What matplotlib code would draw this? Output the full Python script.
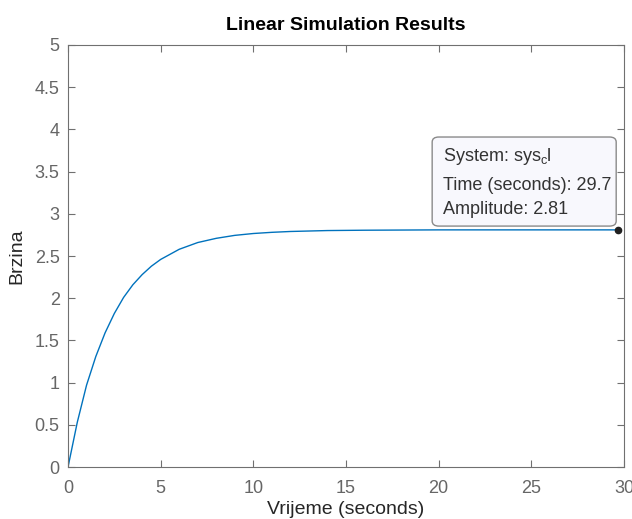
import matplotlib
matplotlib.use("Agg")
import matplotlib.pyplot as plt
from matplotlib.patches import FancyBboxPatch

# values
vrijeme = [0, 0.5, 1, 1.5, 2, 2.5, 3, 3.5, 4, 4.5, 5, 6, 7, 8, 9, 10, 11, 12,
           14, 16, 18, 20, 22, 25, 27, 29.7]
brzina = [0, 0.53, 0.97, 1.31, 1.59, 1.82, 2.01, 2.16, 2.28, 2.38, 2.46, 2.58,
          2.66, 2.71, 2.745, 2.767, 2.781, 2.791, 2.802, 2.806, 2.808, 2.81,
          2.81, 2.81, 2.81, 2.81]
tip_t, tip_y = 29.7, 2.81
x_ticks = [0, 5, 10, 15, 20, 25, 30]
y_ticks = [0, 0.5, 1, 1.5, 2, 2.5, 3, 3.5, 4, 4.5, 5]
y_labels = ['0', '0.5', '1', '1.5', '2', '2.5', '3', '3.5', '4', '4.5', '5']

plt.rcParams['font.family'] = ['Liberation Sans', 'DejaVu Sans']
axis_col = '#707070'

fig = plt.figure(figsize=(6.32, 5.19), dpi=100)
ax = fig.add_axes([0.1076, 0.100, 0.8797, 0.8133])

ax.plot(vrijeme, brzina, color='#0072BD', lw=1.0)
ax.plot([tip_t], [tip_y], 'o', color='#202020', ms=4.5, zorder=5)

ax.set_xlim(0, 30)
ax.set_ylim(0, 5)
ax.set_xticks(x_ticks)
ax.set_yticks(y_ticks)
ax.set_yticklabels(y_labels)
ax.tick_params(direction='in', top=True, right=True, length=5, width=0.8,
               colors=axis_col, labelsize=13, labelcolor='#666666')
ax.tick_params(axis='y', pad=6)
ax.tick_params(axis='x', pad=9)
for s in ax.spines.values():
    s.set_color(axis_col)
    s.set_linewidth(0.8)

ax.set_title('Linear Simulation Results', fontsize=14, fontweight='bold', pad=11)
ax.set_xlabel('Vrijeme (seconds)', fontsize=14, color='#262626', labelpad=3)
ax.set_ylabel('Brzina', fontsize=14, color='#262626', labelpad=7)

# data tip
box = FancyBboxPatch((0.655, 0.571), 0.331, 0.211, transform=ax.transAxes,
                     boxstyle='round,pad=0,rounding_size=0.012',
                     fc='#f8f8fd', ec='#8a8a8a', lw=1.0, zorder=6)
ax.add_patch(box)
ax.text(0.674, 0.735, r'System: sys$_{\mathregular{c}}$l', transform=ax.transAxes,
        fontsize=13, color='#333333', va='center', zorder=7)
ax.text(0.674, 0.668, 'Time (seconds): 29.7', transform=ax.transAxes,
        fontsize=13, color='#333333', va='center', zorder=7)
ax.text(0.674, 0.610, 'Amplitude: 2.81', transform=ax.transAxes,
        fontsize=13, color='#333333', va='center', zorder=7)

plt.savefig('out.png', dpi=100)
